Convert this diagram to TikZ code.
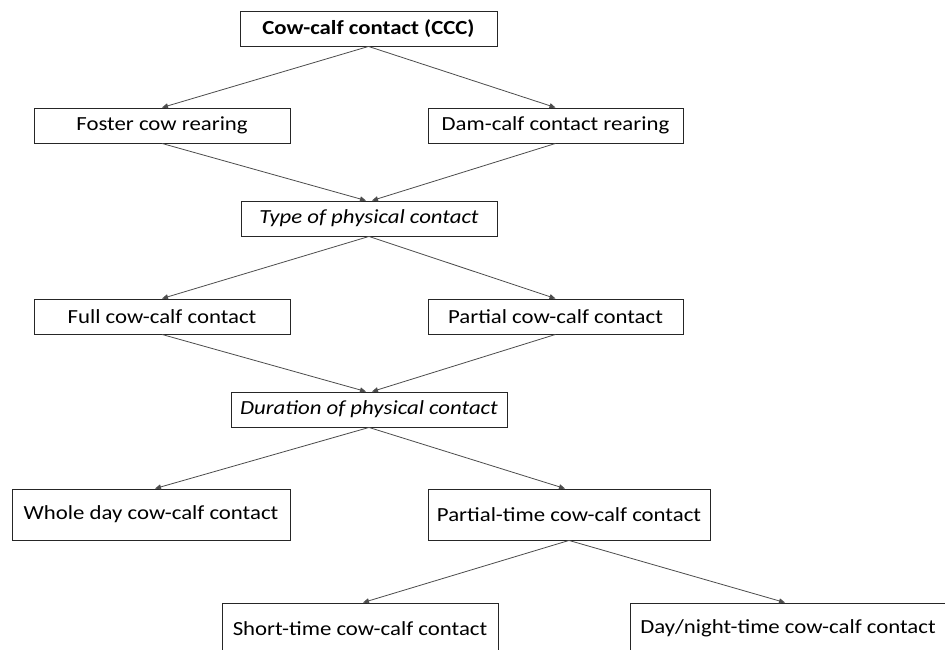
\documentclass[tikz,border=0pt]{standalone}
\usepackage{fontspec}
\setmainfont{Carlito}[FakeStretch=1.14]
\usetikzlibrary{arrows.meta}
\begin{document}
\begin{tikzpicture}[x=1pt,y=-1pt,
 box/.style={draw=black!85, line width=0.9pt, inner sep=0pt, font=\fontsize{20}{22}\selectfont, text=black},
 sbox/.style={box, minimum height=35pt},
 tbox/.style={box, minimum height=51pt},
 arr/.style={draw=black!70, line width=0.8pt, -{Triangle[length=6pt,width=5pt]}}]
\useasboundingbox (0,0) rectangle (945,650);
\clip (0,0) rectangle (945,650);
\fill[white] (0,0) rectangle (945,650);
\node[sbox, minimum width=257pt] (ccc) at (368.5,28.5) {\bfseries Cow-calf contact (CCC)};
\node[sbox, minimum width=256pt] (foster) at (162,125.5) {Foster cow rearing};
\node[sbox, minimum width=255pt] (dam) at (555.5,125.5) {Dam-calf contact rearing};
\node[sbox, minimum width=256pt] (type) at (369,218.5) {\itshape Type of physical contact};
\node[sbox, minimum width=256pt] (full) at (162,316.5) {Full cow-calf contact};
\node[sbox, minimum width=255pt] (partial) at (555.5,316.5) {Partial cow-calf contact};
\node[sbox, minimum width=276pt] (duration) at (369,409.5) {\itshape Duration of physical contact};
\node[tbox, minimum width=278pt] (whole) at (151,514.5) {Whole day cow-calf contact};
\node[tbox, minimum width=282pt] (ptime) at (569,514.5) {Partial-time cow-calf contact};
\node[tbox, minimum width=276pt] (short) at (360,628.5) {Short-time cow-calf contact};
\node[tbox, minimum width=316pt] (daynight) at (788,628.5) {Day/night-time cow-calf contact};
\draw[arr] (ccc.south) -- (foster.north);
\draw[arr] (ccc.south) -- (dam.north);
\draw[arr] (foster.south) -- ([xshift=-3pt]type.north);
\draw[arr] (dam.south) -- ([xshift=3pt]type.north);
\draw[arr] (type.south) -- (full.north);
\draw[arr] (type.south) -- (partial.north);
\draw[arr] (full.south) -- ([xshift=-3pt]duration.north);
\draw[arr] (partial.south) -- ([xshift=3pt]duration.north);
\draw[arr] (duration.south) -- ([xshift=4pt]whole.north);
\draw[arr] (duration.south) -- ([xshift=-4pt]ptime.north);
\draw[arr] (ptime.south) -- ([xshift=3pt]short.north);
\draw[arr] (ptime.south) -- ([xshift=-3pt]daynight.north);
\end{tikzpicture}
\end{document}
